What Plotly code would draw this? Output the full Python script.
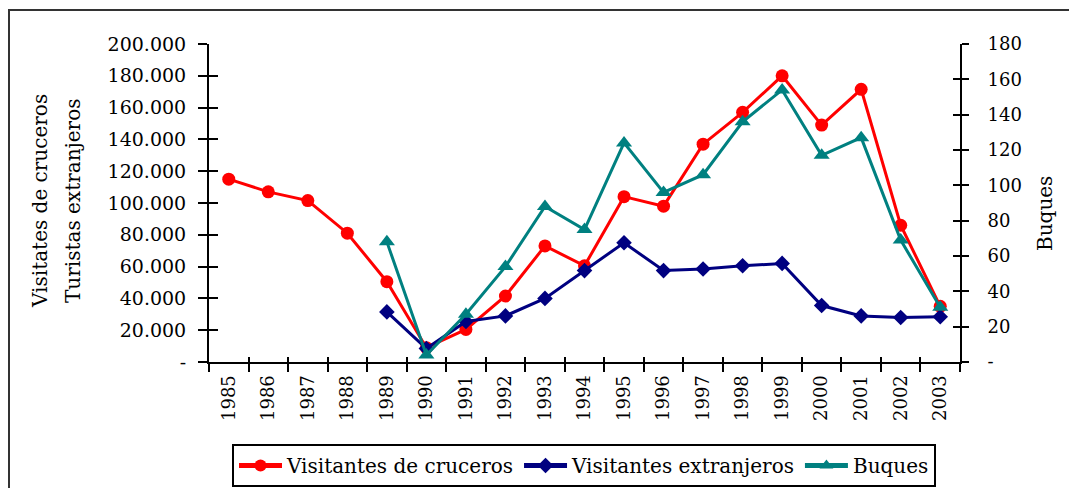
import plotly.graph_objects as go

years = [str(y) for y in range(1985, 2004)]
cruceros = [115000, 107000, 101500, 81000, 50500, 9000, 20500, 41500, 73000, 60500,
            104000, 98000, 137000, 157000, 180000, 149000, 171500, 86000, 35000]
extranjeros = [None, None, None, None, 31500, 8500, 25500, 29000, 40000, 57500,
               75000, 57500, 58500, 60500, 62000, 35500, 29000, 28000, 28500]
buques = [None, None, None, None, 68, 4, 27, 54, 88, 75,
          124, 96, 106, 136, 154, 117, 127, 69, 31]

left_vals = list(range(0, 200001, 20000))
left_text = ["-"] + [f"{v // 1000}.000" for v in left_vals[1:]]
right_vals = list(range(0, 181, 20))
right_text = ["-"] + [str(v) for v in right_vals[1:]]

FONT = "DejaVu Serif"
RED = "#FF0000"
NAVY = "#000080"
TEAL = "#008080"

fig = go.Figure()
fig.add_trace(go.Scatter(x=years, y=cruceros, name="Visitantes de cruceros",
                         mode="lines+markers", line=dict(color=RED, width=3),
                         marker=dict(symbol="circle", size=13, color=RED),
                         xaxis="x", yaxis="y"))
fig.add_trace(go.Scatter(x=years, y=extranjeros, name="Visitantes extranjeros",
                         mode="lines+markers", line=dict(color=NAVY, width=3),
                         marker=dict(symbol="diamond", size=12, color=NAVY),
                         xaxis="x", yaxis="y"))
fig.add_trace(go.Scatter(x=years, y=buques, name="Buques",
                         mode="lines+markers", line=dict(color=TEAL, width=3),
                         marker=dict(symbol="triangle-up", size=14, color=TEAL),
                         xaxis="x", yaxis="y2"))
# invisible helpers so the overlay axes (inner tick marks) are drawn
fig.add_trace(go.Scatter(x=years, y=[None] * len(years), showlegend=False,
                         hoverinfo="skip", xaxis="x2", yaxis="y3"))
fig.add_trace(go.Scatter(x=years, y=[None] * len(years), showlegend=False,
                         hoverinfo="skip", xaxis="x2", yaxis="y4"))

# the page body adds an 8px offset; screen coordinates = figure coordinates + 8
OFF = 8
W, H = 1077 - OFF, 488 - OFF
L, T = 209 - OFF, 44 - OFF
pw, ph = 751, 318
R, B = W - L - pw, H - T - ph

def px_x(px):  # screen px -> paper
    return (px - OFF - L) / pw

def px_y(py):
    return (T + ph - (py - OFF)) / ph

axis_common = dict(showgrid=False, zeroline=False, linecolor="black", linewidth=2,
                   tickcolor="black", tickwidth=2, automargin=False)

fig.update_layout(
    width=W, height=H,
    margin=dict(l=L, r=R, t=T, b=B, autoexpand=False),
    paper_bgcolor="white", plot_bgcolor="white",
    font=dict(family=FONT, color="black", size=18),
    showlegend=True,
    xaxis=dict(type="category", categoryorder="array", categoryarray=years,
               range=[-0.5, 18.5], tickson="boundaries", ticks="outside", ticklen=8,
               tickangle=-90, tickfont=dict(size=18), ticklabelstandoff=4,
               showline=True, anchor="y", **axis_common),
    xaxis2=dict(type="category", categoryorder="array", categoryarray=years,
                range=[-0.5, 18.5], tickson="boundaries", ticks="inside", ticklen=5,
                showticklabels=False, showline=False, overlaying="x", anchor="y",
                side="bottom", **axis_common),
    yaxis=dict(range=[0, 200000], tickvals=left_vals, ticktext=left_text,
               ticks="outside", ticklen=9, tickfont=dict(size=19),
               ticklabelstandoff=8, showline=True, anchor="x", **axis_common),
    yaxis2=dict(range=[0, 180], tickvals=right_vals, ticktext=right_text,
                ticks="outside", ticklen=7, tickfont=dict(size=18),
                ticklabelstandoff=15, showline=True, overlaying="y", side="right",
                anchor="x", **axis_common),
    yaxis3=dict(range=[0, 200000], tickvals=left_vals, ticks="inside", ticklen=9,
                showticklabels=False, showline=False, overlaying="y", side="left",
                anchor="x2", **axis_common),
    yaxis4=dict(range=[0, 180], tickvals=right_vals, ticks="inside", ticklen=7,
                showticklabels=False, showline=False, overlaying="y", side="right",
                anchor="x2", **axis_common),
    legend=dict(orientation="h", x=px_x(232), xanchor="left", y=px_y(444),
                yanchor="top", bgcolor="white", bordercolor="black", borderwidth=2,
                font=dict(size=20, family=FONT), itemsizing="constant",
                itemwidth=43, tracegroupgap=0),
    annotations=[
        dict(text="Visitates de cruceros", textangle=-90, xref="paper", yref="paper",
             x=px_x(40), y=px_y(201), xanchor="center", yanchor="middle",
             showarrow=False, font=dict(size=20)),
        dict(text="Turistas extranjeros", textangle=-90, xref="paper", yref="paper",
             x=px_x(73), y=px_y(201), xanchor="center", yanchor="middle",
             showarrow=False, font=dict(size=20)),
        dict(text="Buques", textangle=-90, xref="paper", yref="paper",
             x=px_x(1045), y=px_y(214), xanchor="center", yanchor="middle",
             showarrow=False, font=dict(size=20)),
    ],
    shapes=[
        dict(type="line", xref="paper", yref="paper", x0=px_x(9), x1=px_x(9),
             y0=px_y(9), y1=px_y(500), line=dict(color="#333333", width=2)),
        dict(type="line", xref="paper", yref="paper", x0=px_x(8), x1=px_x(1090),
             y0=px_y(10), y1=px_y(10), line=dict(color="#333333", width=2)),
    ],
)

fig.write_html("out.html")
